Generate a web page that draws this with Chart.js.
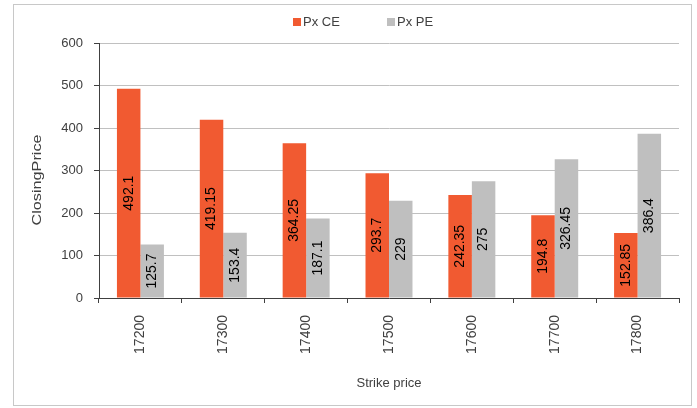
<!DOCTYPE html>
<html>
<head>
<meta charset="utf-8">
<script src="https://cdn.jsdelivr.net/npm/chart.js@4/dist/chart.umd.min.js"></script>
<style>
    html, body { margin: 0; padding: 0; background: #fff; }
    #wrap { width: 697px; height: 408px; }
</style>
</head>
<body>
<div id="wrap"><canvas id="strikeChart" width="697" height="408"></canvas></div>
<script>
// Precio de cierre por strike
const strikes = ["17200", "17300", "17400", "17500", "17600", "17700", "17800"];
const pxCE = [492.1, 419.15, 364.25, 293.7, 242.35, 194.8, 152.85];
const pxPE = [125.7, 153.4, 187.1, 229, 275, 326.45, 386.4];
const yTicks = [0, 100, 200, 300, 400, 500, 600];

const FONT = "'Liberation Sans', Arial, sans-serif";
const TEXT = "#404040";

// marco gris alrededor de todo el grafico
const framePlugin = {
    id: "frame",
    beforeDraw(chart) {
        const ctx = chart.ctx;
        ctx.save();
        ctx.fillStyle = "#fff";
        ctx.fillRect(0, 0, chart.width, chart.height);
        ctx.strokeStyle = "#c8c8c8";
        ctx.lineWidth = 1;
        ctx.strokeRect(13.5, 4.5, 678, 401);
        ctx.restore();
    }
};

// leyenda compacta arriba, centrada
const legendPlugin = {
    id: "miniLegend",
    afterDraw(chart) {
        const ctx = chart.ctx;
        const pos = [293, 387];
        ctx.save();
        ctx.font = "13px " + FONT;
        ctx.textBaseline = "middle";
        chart.data.datasets.forEach((ds, i) => {
            ctx.fillStyle = ds.backgroundColor;
            ctx.fillRect(pos[i], 18, 8, 8);
            ctx.fillStyle = TEXT;
            ctx.fillText(ds.label, pos[i] + 10, 22.5);
        });
        ctx.restore();
    }
};

// titulo del eje Y, vertical y algo estirado
const yTitlePlugin = {
    id: "yTitle",
    afterDraw(chart) {
        const ctx = chart.ctx;
        ctx.save();
        ctx.font = "13px " + FONT;
        ctx.fillStyle = TEXT;
        ctx.textAlign = "center";
        ctx.textBaseline = "middle";
        ctx.translate(37, 180);
        ctx.rotate(-Math.PI / 2);
        ctx.scale(1.25, 1);
        ctx.fillText("ClosingPrice", 0, 0);
        ctx.restore();
    }
};

// valores en vertical dentro de cada barra
const barLabels = {
    id: "barLabels",
    afterDatasetsDraw(chart) {
        const ctx = chart.ctx;
        ctx.save();
        ctx.font = "14px " + FONT;
        ctx.fillStyle = "#000";
        ctx.textAlign = "center";
        ctx.textBaseline = "middle";
        chart.data.datasets.forEach((ds, i) => {
            chart.getDatasetMeta(i).data.forEach((bar, j) => {
                const y = (bar.y + bar.base) / 2;
                ctx.save();
                ctx.translate(bar.x, y);
                ctx.rotate(-Math.PI / 2);
                ctx.fillText(String(ds.data[j]), 0, 0);
                ctx.restore();
            });
        });
        ctx.restore();
    }
};

new Chart(document.getElementById("strikeChart"), {
    type: "bar",
    data: {
        labels: strikes,
        datasets: [{
            label: "Px CE",
            data: pxCE,
            backgroundColor: "#f15a31",
            borderWidth: 0
        }, {
            label: "Px PE",
            data: pxPE,
            backgroundColor: "#bfbfbf",
            borderWidth: 0
        }]
    },
    options: {
        responsive: false,
        animation: false,
        layout: {
            padding: { top: 43, right: 18, bottom: 2, left: 14 }
        },
        datasets: {
            bar: { categoryPercentage: 0.567, barPercentage: 1 }
        },
        plugins: {
            legend: { display: false },
            tooltip: { enabled: false }
        },
        scales: {
            x: {
                afterFit: (scale) => { scale.height = 108; },
                grid: {
                    offset: true,
                    drawOnChartArea: false,
                    tickLength: 5,
                    tickColor: "#404040"
                },
                border: { color: "#404040" },
                ticks: {
                    minRotation: 90,
                    maxRotation: 90,
                    padding: 12,
                    color: TEXT,
                    font: { family: FONT, size: 14 }
                },
                title: {
                    display: true,
                    text: "Strike price",
                    color: TEXT,
                    padding: { top: 0, bottom: 15 },
                    font: { family: FONT, size: 13 }
                }
            },
            y: {
                min: 0,
                max: 600,
                afterFit: (scale) => { scale.width = 85; },
                afterBuildTicks: (scale) => {
                    scale.ticks = yTicks.map(v => ({ value: v }));
                },
                grid: {
                    color: "#c0c0c0",
                    tickLength: 5,
                    tickColor: "#404040"
                },
                border: { color: "#404040" },
                ticks: {
                    padding: 11,
                    color: TEXT,
                    font: { family: FONT, size: 13 }
                }
            }
        }
    },
    plugins: [framePlugin, legendPlugin, yTitlePlugin, barLabels]
});
</script>
</body>
</html>
